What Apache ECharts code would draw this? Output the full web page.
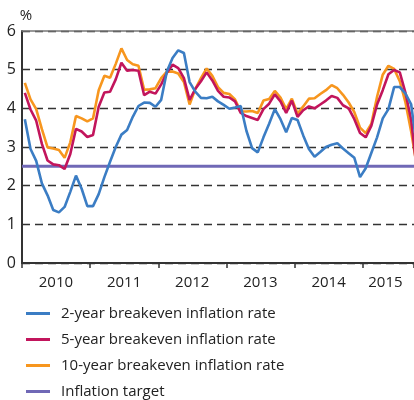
<!DOCTYPE html>
<html>
<head>
<meta charset="utf-8">
<script src="https://cdn.jsdelivr.net/npm/echarts@6/dist/echarts.min.js"></script>
<style>
  html, body { margin: 0; padding: 0; background: #fff; }
  #chart { width: 414px; height: 400px; }
</style>
</head>
<body>
<div id="chart"></div>
<script>
// monthly observations, Jan 2010 - Sep 2015 (plus one point that runs off the right edge)
var years = ['2010', '2011', '2012', '2013', '2014', '2015'];
var monthCount = 69;
var yTicks = [0, 1, 2, 3, 4, 5, 6];

var be2y = [3.72, 2.95, 2.64, 2.06, 1.75, 1.37, 1.31, 1.45, 1.84, 2.26, 1.92, 1.47,
  1.47, 1.78, 2.22, 2.62, 3.0, 3.32, 3.44, 3.78, 4.06, 4.15, 4.14, 4.04,
  4.22, 4.95, 5.3, 5.5, 5.43, 4.68, 4.43, 4.27, 4.26, 4.3, 4.18, 4.09,
  3.99, 4.02, 4.06, 3.42, 2.97, 2.86, 3.25, 3.6, 3.98, 3.72, 3.38, 3.75,
  3.7, 3.3, 2.95, 2.75, 2.87, 3.0, 3.06, 3.1, 2.96, 2.84, 2.72, 2.22,
  2.45, 2.85, 3.25, 3.74, 3.98, 4.55, 4.55, 4.38, 4.1, 3.0];

var be5y = [4.4, 3.97, 3.68, 3.08, 2.65, 2.55, 2.53, 2.43, 2.82, 3.47, 3.4, 3.26,
  3.31, 4.04, 4.41, 4.43, 4.75, 5.18, 4.97, 4.99, 4.97, 4.34, 4.43, 4.38,
  4.62, 4.92, 5.13, 5.04, 4.78, 4.22, 4.5, 4.7, 4.93, 4.72, 4.45, 4.3,
  4.28, 4.18, 3.88, 3.8, 3.75, 3.7, 3.98, 4.12, 4.36, 4.18, 3.88, 4.2,
  3.78, 3.95, 4.05, 4.0, 4.1, 4.2, 4.32, 4.27, 4.08, 4.0, 3.72, 3.36,
  3.25, 3.55, 4.1, 4.47, 4.88, 4.99, 4.93, 4.4, 3.7, 2.4];

var be10y = [4.66, 4.23, 3.98, 3.46, 2.99, 2.96, 2.92, 2.72, 3.12, 3.8, 3.74, 3.66,
  3.74, 4.47, 4.84, 4.79, 5.15, 5.55, 5.25, 5.14, 5.1, 4.48, 4.49, 4.52,
  4.78, 4.95, 4.95, 4.9, 4.68, 4.1, 4.5, 4.78, 5.03, 4.84, 4.55, 4.4,
  4.37, 4.23, 3.92, 3.92, 3.93, 3.88, 4.2, 4.24, 4.45, 4.28, 3.98, 4.25,
  3.86, 4.05, 4.25, 4.26, 4.37, 4.47, 4.6, 4.52, 4.35, 4.15, 3.9, 3.5,
  3.36, 3.6, 4.3, 4.87, 5.1, 5.02, 4.7, 4.15, 3.4, 2.5];

var target = 2.5;

var names = ['2-year breakeven inflation rate', '5-year breakeven inflation rate',
  '10-year breakeven inflation rate', 'Inflation target'];
var colors = ['#3b7dc4', '#c2155c', '#f7961e', '#7068b6'];

// month categories for the axis (label shown once per year)
var months = [];
for (var i = 0; i < monthCount; i++) {
  months.push(years[Math.floor(i / 12)]);
}
// index of the month whose label carries the year (middle of the visible part of the year)
var labelIdx = [6, 18, 30, 42, 54, 64];

function monthly(arr) {
  return arr.map(function (v, i) { return [i + 0.5, v]; });
}

var chart = echarts.init(document.getElementById('chart'));
var font = '"Open Sans", "Noto Sans", sans-serif';

chart.setOption({
  animation: false,
  backgroundColor: '#fff',
  textStyle: { fontFamily: font },
  grid: { left: 22, top: 31, right: 0, bottom: 137, outerBoundsMode: 'none', containLabel: false },
  legend: {
    orient: 'vertical',
    left: 21,
    top: 301,
    height: 120,
    icon: 'rect',
    itemWidth: 24,
    itemHeight: 3,
    itemGap: 11,
    data: names,
    textStyle: { fontSize: 15, color: '#222', fontFamily: font, padding: [0, 0, 0, 6] }
  },
  xAxis: [{
    type: 'category',
    data: months,
    boundaryGap: true,
    axisLine: { lineStyle: { color: '#333', width: 2 } },
    axisTick: {
      show: true, length: 5, lineStyle: { color: '#333', width: 1.5 },
      interval: function (idx) { return idx % 12 === 0; }
    },
    axisLabel: {
      fontSize: 15, color: '#222', margin: 12, padding: [0, 6, 0, 0],
      interval: function (idx) { return labelIdx.indexOf(idx) >= 0; }
    }
  }, {
    type: 'value',
    min: 0,
    max: monthCount,
    position: 'top',
    axisLine: { show: true, onZero: false, lineStyle: { color: '#777', width: 1.5 } },
    axisTick: { show: false },
    axisLabel: { show: false },
    splitLine: { show: false }
  }],
  yAxis: {
    type: 'value',
    min: 0,
    max: 6,
    interval: 1,
    name: '%',
    nameLocation: 'end',
    nameGap: 3,
    nameTextStyle: { fontSize: 15, color: '#222', padding: [0, 0, 0, 8] },
    axisLine: { show: true, lineStyle: { color: '#333', width: 2 } },
    axisTick: { show: false },
    axisLabel: {
      fontSize: 16, color: '#222', margin: 6,
      formatter: function (v) { return yTicks.indexOf(v) >= 0 ? String(v) : ''; }
    },
    splitLine: { lineStyle: { color: '#333', width: 1.3, type: [8, 5] } }
  },
  series: [{
    name: names[3],
    type: 'line',
    xAxisIndex: 1,
    symbol: 'none',
    color: colors[3],
    lineStyle: { width: 3, color: colors[3] },
    data: [[0, target], [monthCount, target]]
  }, {
    name: names[2],
    type: 'line',
    xAxisIndex: 1,
    symbol: 'none',
    color: colors[2],
    lineStyle: { width: 2.6, color: colors[2] },
    data: monthly(be10y)
  }, {
    name: names[1],
    type: 'line',
    xAxisIndex: 1,
    symbol: 'none',
    color: colors[1],
    lineStyle: { width: 2.6, color: colors[1] },
    data: monthly(be5y)
  }, {
    name: names[0],
    type: 'line',
    xAxisIndex: 1,
    symbol: 'none',
    color: colors[0],
    lineStyle: { width: 2.6, color: colors[0] },
    data: monthly(be2y)
  }]
});
</script>
</body>
</html>
